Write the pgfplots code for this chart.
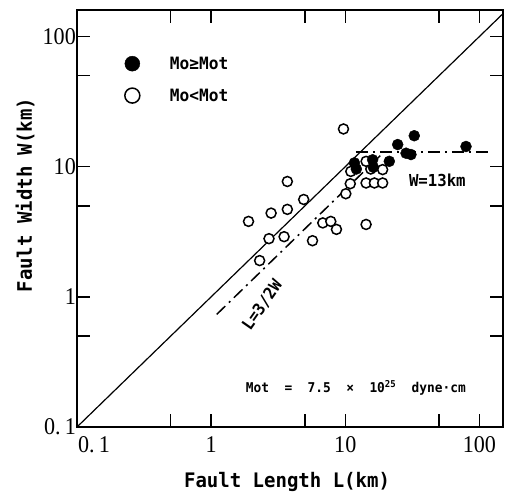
\documentclass[border=0pt]{standalone}
\usepackage{fontspec}
\setmainfont{Liberation Serif}
\newfontfamily\tickf{Liberation Serif}[FakeStretch=0.92]
\newfontfamily\labf{DejaVu Sans Mono}[FakeStretch=0.95]
\usepackage{pgfplots}
\pgfplotsset{compat=1.18}

\begin{document}
\begin{tikzpicture}
\path[use as bounding box] (-77pt,-68pt) rectangle (428pt,427pt);
\begin{axis}[
  at={(0pt,0pt)}, anchor=south west,
  scale only axis, width=426pt, height=417pt,
  xmode=log, ymode=log,
  xmin=0.1, xmax=150, ymin=0.1, ymax=160,
  axis line style={line width=1.6pt},
  tick align=inside, major tick length=13pt,
  tick style={line width=1.4pt, black},
  xminorticks=false, yminorticks=false,
  xtick={0.5,1,5,10,50,100}, xticklabels={,1,,10,,100},
  ytick={0.5,1,5,10,50,100}, yticklabels={,1,,10,,100},
  extra x ticks={0.1}, extra x tick labels={0.\,1},
  extra y ticks={0.1}, extra y tick labels={0.\,1},
  extra tick style={major tick length=0pt, xticklabel style={xshift=17pt}},
  ticklabel style={font=\tickf\fontsize{24}{24}\selectfont},
  xticklabel style={yshift=-6pt},
  yticklabel style={inner sep=1pt},
  xlabel={Fault Length L(km)}, ylabel={Fault Width W(km)},
  label style={font=\labf\bfseries\fontsize{20}{20}\selectfont},
  xlabel style={at={(axis description cs:0.493,-0.132)}, anchor=center},
  ylabel style={at={(axis description cs:-0.122,0.556)}, anchor=center},
  legend style={at={(axis description cs:0.089,0.898)}, anchor=north west,
    draw=none, fill=none, row sep=14pt,
    font=\labf\bfseries\fontsize{17}{17}\selectfont},
  legend cell align=left, reverse legend,
  legend image code/.code={\path[draw=none, fill=none] (0cm,0cm) -- (1.75cm,0cm);
    \draw[#1, mark size=7.5pt] plot coordinates {(0.5cm,0cm)};},
]
% W = L
\addplot[forget plot, black, line width=1.2pt] coordinates {(0.1,0.1) (150,150)};
% L = 3/2 W and W = 13 km
\addplot[forget plot, black, line width=1.5pt,
  dash pattern=on 12pt off 5pt on 2pt off 5pt] coordinates {(1.1,0.733) (19.5,13)};
\addplot[forget plot, black, line width=1.5pt,
  dash pattern=on 12pt off 5pt on 2pt off 5pt] coordinates {(12,13) (120,13)};

\addplot[only marks, mark=*, mark size=5pt, line width=1.5pt,
  draw=black, fill=white] coordinates {
  (9.7,19.5) (3.7,7.7) (1.9,3.8) (2.8,4.4) (3.7,4.7) (4.9,5.6)
  (2.7,2.8) (3.5,2.9) (2.3,1.9) (5.7,2.7) (6.8,3.7) (7.8,3.8)
  (8.6,3.3) (14.3,3.6) (10.1,6.2) (10.9,7.4) (14.3,7.5) (16.5,7.5)
  (19.0,7.5) (11.0,9.2) (15.5,9.6) (19.0,9.5) (14.3,11.0)
};
\addlegendentry{Mo<Mot}
\addplot[only marks, mark=*, mark size=5.5pt, black] coordinates {
  (11.7,10.7) (12.1,9.6) (16.0,11.3) (16.2,9.9) (21.3,11.0)
  (24.6,14.8) (28.4,12.7) (30.9,12.4) (32.7,17.3) (79.5,14.3)
};
\addlegendentry{Mo≥Mot}

\node[font=\labf\bfseries\fontsize{16.5}{16.5}\selectfont]
  at (axis cs:48.6,7.9) {W=13km};
\node[font=\labf\bfseries\fontsize{16.5}{16.5}\selectfont, rotate=55]
  at (axis cs:2.4,0.86) {L=3/2W};
\node[font=\labf\bfseries\fontsize{13.5}{13.5}\selectfont]
  at (axis cs:12,0.2) {Mot\ \ =\ \ 7.5\ \ ×\ \ 10\textsuperscript{25}\ \ dyne·cm};
\end{axis}
\end{tikzpicture}
\end{document}
